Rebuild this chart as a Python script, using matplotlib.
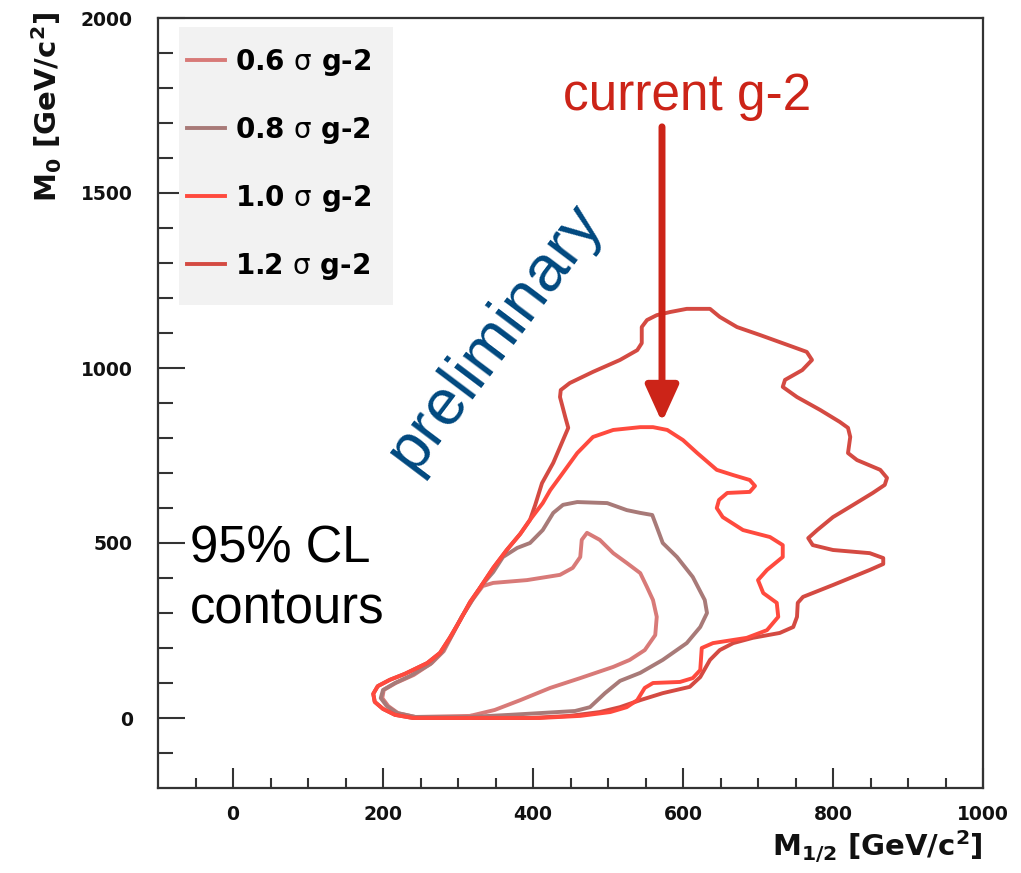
import matplotlib
matplotlib.use("Agg")
import matplotlib.pyplot as plt
from matplotlib.patches import Rectangle

# ---- contour data: (M_1/2, M_0) in GeV/c^2 ----
c06_x = [316, 243, 220, 207, 199, 201, 217, 241, 265, 281, 293, 305, 319, 333, 347, 392, 436, 453,
         463, 465, 472, 489, 507, 525, 543, 552, 560, 565, 563, 549, 529, 507, 463, 423, 383, 349, 316]
c06_y = [6, 3, 14, 34, 57, 80, 100, 123, 157, 191, 240, 289, 337, 377, 386, 394, 409, 429,
         460, 509, 529, 509, 471, 443, 414, 374, 337, 289, 237, 194, 166, 146, 114, 86, 51, 23, 6]

c08_x = [316, 243, 219, 205, 197, 200, 216, 236, 263, 279, 292, 305, 319, 332, 347, 360, 379, 396,
         413, 427, 440, 459, 499, 525, 543, 559, 565, 573, 592, 613, 629, 632, 623, 605, 573, 543,
         516, 496, 476, 456, 409, 369, 316]
c08_y = [3, 3, 14, 34, 57, 80, 100, 120, 154, 189, 237, 289, 337, 380, 417, 460, 486, 500,
         537, 586, 609, 617, 614, 594, 586, 580, 546, 500, 460, 403, 337, 300, 260, 214, 166, 129,
         106, 71, 31, 20, 14, 9, 3]

c10_x = [316, 240, 216, 200, 189, 187, 193, 209, 229, 259, 276, 289, 303, 316, 329, 347, 365, 383,
         396, 413, 423, 436, 459, 480, 507, 543, 560, 579, 600, 619, 645, 667, 689, 696, 689, 659,
         648, 645, 653, 680, 716, 733, 733, 712, 700, 707, 725, 727, 712, 685, 640, 625, 623, 613,
         596, 560, 549, 539, 525, 503, 463, 409, 316]
c10_y = [0, 0, 9, 26, 46, 69, 91, 109, 126, 157, 186, 229, 280, 331, 371, 429, 480, 526,
         566, 614, 651, 689, 757, 803, 823, 831, 831, 823, 794, 757, 709, 694, 680, 663, 646, 643,
         623, 600, 574, 537, 517, 494, 460, 423, 394, 357, 329, 289, 251, 229, 214, 200, 137, 114,
         103, 100, 86, 51, 31, 17, 6, 0, 0]

c12_x = [316, 240, 216, 200, 189, 187, 193, 209, 229, 259, 276, 289, 303, 316, 329, 347, 365, 383,
         396, 403, 412, 427, 440, 447, 443, 436, 437, 449, 480, 516, 539, 545, 545, 552, 565, 583,
         605, 636, 649, 672, 703, 747, 765, 772, 759, 736, 733, 752, 783, 809, 820, 823, 820, 832,
         863, 872, 869, 853, 827, 800, 779, 767, 773, 800, 849, 867, 867, 849, 800, 760, 753, 752,
         747, 729, 693, 667, 649, 636, 623, 609, 573, 543, 516, 489, 449, 396, 316]
c12_y = [0, 0, 9, 26, 46, 69, 91, 109, 126, 157, 186, 229, 280, 331, 371, 429, 480, 526,
         566, 609, 671, 729, 794, 829, 860, 917, 937, 957, 989, 1023, 1051, 1071, 1117, 1137, 1151, 1160,
         1169, 1169, 1146, 1117, 1094, 1060, 1046, 1023, 994, 966, 946, 917, 880, 846, 829, 803, 757, 737,
         709, 686, 666, 643, 609, 574, 537, 514, 494, 480, 471, 457, 440, 423, 380, 346, 329, 289,
         260, 243, 229, 214, 194, 166, 117, 89, 71, 51, 31, 17, 6, 0, 0]

levels = ["0.6", "0.8", "1.0", "1.2"]
contours_x = [c06_x, c08_x, c10_x, c12_x]
contours_y = [c06_y, c08_y, c10_y, c12_y]
colors = ["#d87a78", "#a87a78", "#ff4a3e", "#d44a42"]
draw_order = [0, 1, 3, 2]

x_major = [0, 200, 400, 600, 800, 1000]
y_major = [0, 500, 1000, 1500, 2000]

# ---- figure ----
W, H = 1021, 873
fig = plt.figure(figsize=(W / 100, H / 100), dpi=100)
L, R, T, B = 158, 983, 18, 788
ax = fig.add_axes([L / W, 1 - B / H, (R - L) / W, (B - T) / H])
ax.set_xlim(-100, 1000)
ax.set_ylim(-200, 2000)

lines = {}
for i in draw_order:
    (ln,) = ax.plot(contours_x[i], contours_y[i], color=colors[i], lw=2.8,
                    solid_joinstyle="round", zorder=3)
    lines[i] = ln

# axes styling
for sp in ax.spines.values():
    sp.set_color("#333333")
    sp.set_linewidth(1.6)
ax.set_xticks(x_major)
ax.set_yticks(y_major)
ax.set_xticks(range(-50, 1000, 50), minor=True)
ax.set_yticks(range(-100, 2000, 100), minor=True)
ax.tick_params(axis="x", which="major", direction="in", length=14.4, width=1.5,
               color="#333333", pad=12, top=False)
ax.tick_params(axis="x", which="minor", direction="in", length=7.2, width=1.5,
               color="#333333", top=False)
ax.tick_params(axis="y", which="major", direction="in", length=19.4, width=1.5,
               color="#333333", pad=18, right=False)
ax.tick_params(axis="y", which="minor", direction="in", length=10.8, width=1.5,
               color="#333333", right=False)
for lab in ax.get_xticklabels() + ax.get_yticklabels():
    lab.set_fontfamily("DejaVu Sans")
    lab.set_fontweight("bold")
    lab.set_fontsize(13.5)
    lab.set_color("#111111")

# axis titles
fig.text(983 / W, 1 - 847 / H, r"$\mathbf{M_{1/2}}$ [GeV/c$^{\mathbf{2}}$]",
         ha="right", va="center", fontsize=21, fontweight="bold",
         fontfamily="DejaVu Sans", color="#111111")
fig.text(47 / W, 1 - 12 / H, r"$\mathbf{M_{0}}$ [GeV/c$^{\mathbf{2}}$]",
         ha="center", va="top", rotation=90, fontsize=21, fontweight="bold",
         fontfamily="DejaVu Sans", color="#111111")

# legend box and entries
ax.add_patch(Rectangle((179 / W, 1 - 305 / H), 214 / W, 278 / H, transform=fig.transFigure,
                       facecolor="#f2f2f2", edgecolor="none", zorder=4.5, clip_on=False))
handles = [lines[i] for i in range(4)]
labels = [lv + r" $\mathrm{\sigma}$ g-2" for lv in levels]
leg = ax.legend(handles, labels, loc="upper left", bbox_to_anchor=(187 / W, 1 - 46.8 / H),
                bbox_transform=fig.transFigure, frameon=False, borderpad=0, borderaxespad=0,
                handlelength=1.37, handletextpad=0.36, labelspacing=1.33,
                prop={"family": "DejaVu Sans", "weight": "bold", "size": 20})
leg.set_zorder(6)

# annotations
ax.text(350, 1090, "preliminary", rotation=53, ha="center", va="center",
        fontsize=46.5, fontfamily="Liberation Sans", color="#00487f", zorder=5)
ax.text(605, 1737, "current g-2", ha="center", va="baseline",
        fontsize=37, fontfamily="Liberation Sans", color="#cc2418", zorder=5)
ax.annotate("", xy=(572, 845), xytext=(572, 1689),
            arrowprops=dict(arrowstyle="-|>,head_length=1.1,head_width=0.5",
                            mutation_scale=20, lw=5, color="#cc2418",
                            shrinkA=0, shrinkB=0), zorder=5)
ax.text(-57, 443, "95% CL", ha="left", va="baseline",
        fontsize=36.5, fontfamily="Liberation Sans", color="black", zorder=5)
ax.text(-57, 271, "contours", ha="left", va="baseline",
        fontsize=36.5, fontfamily="Liberation Sans", color="black", zorder=5)

fig.savefig("out.png", dpi=100, facecolor="white")
